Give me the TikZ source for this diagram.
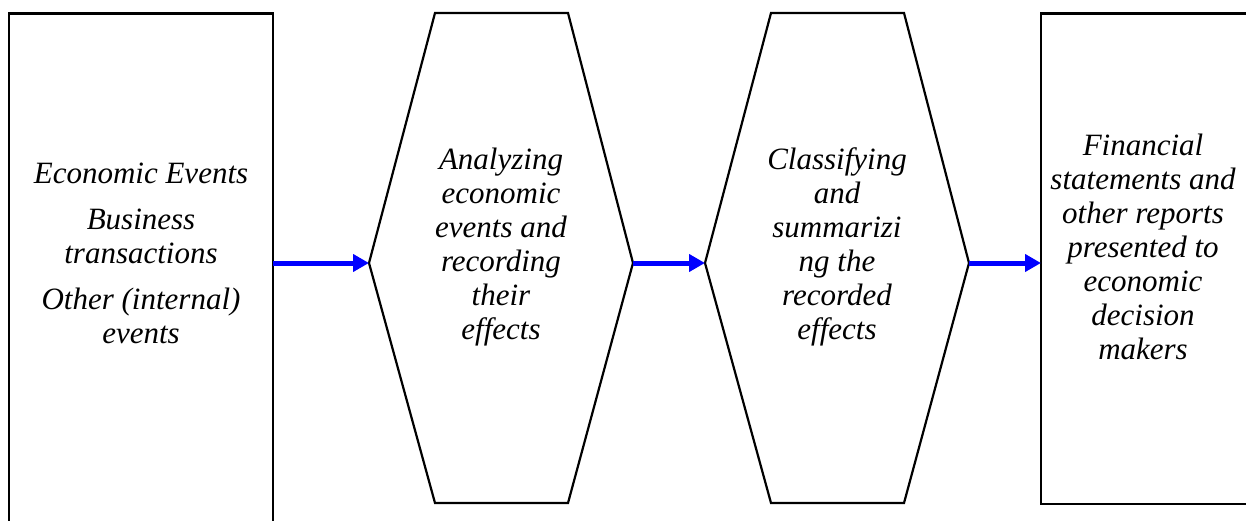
\documentclass[tikz,border=0pt]{standalone}
\usepackage{fontspec}
\setmainfont{Liberation Serif}
\usetikzlibrary{arrows.meta}
\begin{document}
\begin{tikzpicture}[x=1pt,y=-1pt,
  shapeline/.style={draw=black,line width=2.2pt,line join=miter},
  flowarrow/.style={draw=blue,line width=5pt,-{Triangle[length=16pt,width=17pt]},shorten >=0pt},
  stagetext/.style={align=center,font=\fontsize{31}{34}\selectfont\itshape,inner sep=0pt}]
  % page frame
  \useasboundingbox (0,0) rectangle (1246,521);
  \clip (0,0) rectangle (1246,521);

  % outline vertices
  \coordinate (srcTL) at (9,13.5);
  \coordinate (srcTR) at (273,13.5);
  \coordinate (srcBL) at (9,530);
  \coordinate (srcBR) at (273,530);
  \coordinate (srcOut) at (273,263);

  \coordinate (anaA) at (435,13);
  \coordinate (anaB) at (568,13);
  \coordinate (anaR) at (633,263);
  \coordinate (anaC) at (568,503);
  \coordinate (anaD) at (435,503);
  \coordinate (anaL) at (369,263);

  \coordinate (claA) at (771,13);
  \coordinate (claB) at (904,13);
  \coordinate (claR) at (969,263);
  \coordinate (claC) at (904,503);
  \coordinate (claD) at (771,503);
  \coordinate (claL) at (705,263);

  \coordinate (repTL) at (1041,13.5);
  \coordinate (repTR) at (1250,13.5);
  \coordinate (repBL) at (1041,504);
  \coordinate (repBR) at (1250,504);
  \coordinate (repIn) at (1041,263);

  % source box (open at the bottom)
  \draw[shapeline] (srcBL) -- (srcTL) -- (srcTR) -- (srcBR);
  % processing hexagons
  \draw[shapeline] (anaA) -- (anaB) -- (anaR) -- (anaC) -- (anaD) -- (anaL) -- cycle;
  \draw[shapeline] (claA) -- (claB) -- (claR) -- (claC) -- (claD) -- (claL) -- cycle;
  % report box
  \draw[shapeline] (repTR) -- (repTL) -- (repBL) -- (repBR);

  % texts
  \node[stagetext] (src) at (141,253) {Economic Events\\[12pt]Business\\transactions\\[12pt]Other (internal)\\events};
  \node[stagetext] (ana) at (501,247) {Analyzing\\economic\\events and\\recording\\their\\effects};
  \node[stagetext] (cla) at (837,247) {Classifying\\and\\summarizi\\ng the\\recorded\\effects};
  \node[stagetext] (rep) at (1143,247) {Financial\\statements and\\other reports\\presented to\\economic\\decision\\makers};

  % flow arrows
  \draw[flowarrow] (srcOut) -- (anaL);
  \draw[flowarrow] (anaR) -- (claL);
  \draw[flowarrow] (claR) -- (repIn);
\end{tikzpicture}
\end{document}
